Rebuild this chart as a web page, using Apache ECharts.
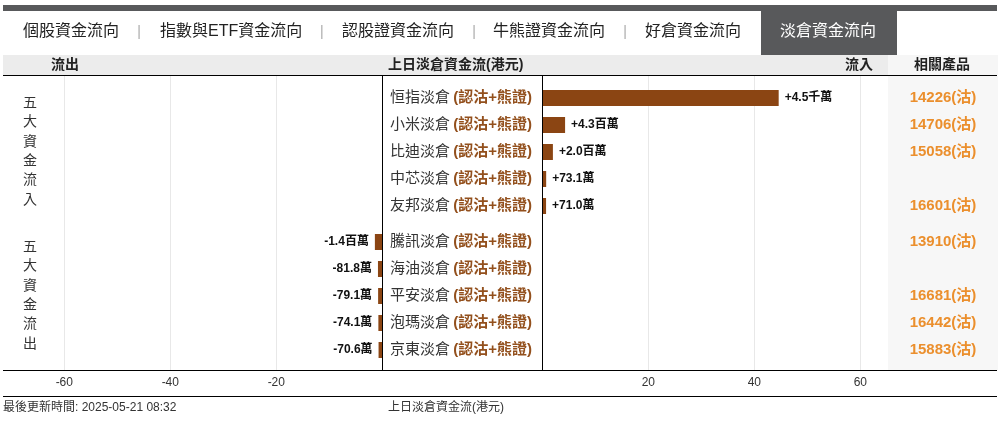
<!DOCTYPE html>
<html><head><meta charset="utf-8">
<script src="https://cdn.jsdelivr.net/npm/echarts@6/dist/echarts.min.js"></script>
<style>html,body{margin:0;padding:0;background:#fff}#c{width:1005px;height:421px}</style>
</head><body><div id="c"></div>
<script>
// ---- data ----
const tabs = ['個股資金流向','指數與ETF資金流向','認股證資金流向','牛熊證資金流向','好倉資金流向','淡倉資金流向'];
const inflowNames = ['恒指淡倉','小米淡倉','比迪淡倉','中芯淡倉','友邦淡倉'];
const inflowValues = [44.6, 4.3, 2.0, 0.731, 0.710];          // 百萬港元
const inflowProducts = ['14226(沽)','14706(沽)','15058(沽)','','16601(沽)'];
const outflowNames = ['騰訊淡倉','海油淡倉','平安淡倉','泡瑪淡倉','京東淡倉'];
const outflowValues = [-1.4, -0.818, -0.791, -0.741, -0.706];  // 百萬港元
const outflowProducts = ['13910(沽)','','16681(沽)','16442(沽)','15883(沽)'];
const nameSuffix = '(認沽+熊證)';
const headerTexts = {out:'流出', title:'上日淡倉資金流(港元)', inn:'流入', prod:'相關產品'};
const sideLabels = ['五大資金流入','五大資金流出'];
const footerTime = '最後更新時間: 2025-05-21 08:32';

// ---- layout ----
const FONT = "'Liberation Sans','Noto Sans CJK TC',sans-serif";
const PX = 5.3;                 // px per unit
const LX = 3;                   // chart left edge
const ZL = 382.3, ZR = 542.3;   // zero positions
const COL = 888;                // product column start
const TOP = 76, BOT = 370;
const leftMax = (ZL - LX) / PX;   // magnitude range of outflow side (axis inverted)
const rightMax = (COL - ZR) / PX;
const BROWN = '#8B4513';
const ORANGE = '#EB8F2D';

function fmt(v){
  const a = Math.abs(v), s = v < 0 ? '-' : '+';
  if (a >= 10) return s + (a/10).toFixed(1) + '千萬';
  if (a >= 1) return s + a.toFixed(1) + '百萬';
  return s + (a*100).toFixed(1) + '萬';
}

const gridsDef = [
  {left: LX, width: ZL - LX, top: TOP, height: BOT-TOP},        // 0 left full
  {left: ZR, width: COL-ZR, top: TOP, height: BOT-TOP},         // 1 right full
  {left: ZR, width: COL-ZR, top: 84.5, height: 135},            // 2 top right bars
  {left: ZR, width: COL-ZR, top: 228.5, height: 135},           // 3 bottom right
  {left: LX, width: ZL - LX, top: 228.5, height: 135}           // 4 bottom left bars
];

const xLabel = {color:'#333', fontSize:12, fontFamily:FONT, margin:7, showMinLabel:false, showMaxLabel:false};
const xAxes = [
  {gridIndex:0, type:'value', min:0, max:leftMax, interval:20, inverse:true,
   axisLine:{show:false}, axisTick:{show:false},
   axisLabel:Object.assign({formatter: v => '-' + v}, xLabel),
   splitLine:{show:true, showMaxLine:false, lineStyle:{color:'#e8e8e8'}}},
  {gridIndex:1, type:'value', min:0, max:rightMax, interval:20,
   axisLine:{show:false}, axisTick:{show:false},
   axisLabel:xLabel,
   splitLine:{show:true, showMaxLine:false, lineStyle:{color:'#e8e8e8'}}},
  {gridIndex:2, type:'value', min:0, max:rightMax, show:false},
  {gridIndex:3, type:'value', min:0, max:rightMax, show:false},
  {gridIndex:4, type:'value', min:0, max:leftMax, inverse:true, show:false}
];

const nameLabel = {
  margin: ZR - 390, align:'left',
  formatter: v => '{n|' + v + '} {b|' + nameSuffix + '}',
  rich: {
    n:{color:'#333', fontSize:15, fontFamily:FONT},
    b:{color:'#93501d', fontSize:15, fontWeight:'bold', fontFamily:FONT}
  }
};
const prodLabel = {margin: 55, align:'center', color:ORANGE, fontSize:15, fontWeight:'bold', fontFamily:FONT};
const hid = {axisLine:{show:false}, axisTick:{show:false}, splitLine:{show:false}};

const yAxes = [
  {gridIndex:0, type:'category', data:[''], position:'right', axisLine:{show:true, lineStyle:{color:'#000', width:1}}, axisTick:{show:false}, axisLabel:{show:false}, z:5},
  {gridIndex:1, type:'category', data:[''], position:'left', axisLine:{show:true, lineStyle:{color:'#000', width:1}}, axisTick:{show:false}, axisLabel:{show:false}, z:5},
  Object.assign({gridIndex:2, type:'category', data:inflowNames, inverse:true, position:'left', axisLabel:nameLabel}, hid),
  Object.assign({gridIndex:2, type:'category', data:inflowProducts, inverse:true, position:'right', axisLabel:prodLabel, z:10}, hid),
  Object.assign({gridIndex:3, type:'category', data:outflowNames, inverse:true, position:'left', axisLabel:nameLabel}, hid),
  Object.assign({gridIndex:3, type:'category', data:outflowProducts, inverse:true, position:'right', axisLabel:prodLabel, z:10}, hid),
  Object.assign({gridIndex:4, type:'category', data:outflowNames, inverse:true, position:'right', axisLabel:{show:false}}, hid)
];

const barLabel = {show:true, color:'#111', fontSize:12, fontWeight:'bold', fontFamily:FONT, distance:6};

const series = [
  {type:'bar', xAxisIndex:2, yAxisIndex:2, data:inflowValues, barWidth:16, itemStyle:{color:BROWN},
   label:Object.assign({position:'right', formatter: p => fmt(inflowValues[p.dataIndex])}, barLabel)},
  // outflow side uses an inverted magnitude axis growing leftwards from zero
  {type:'bar', xAxisIndex:4, yAxisIndex:6, data:outflowValues.map(Math.abs), barWidth:16, itemStyle:{color:BROWN},
   label:Object.assign({position:'left', formatter: p => fmt(outflowValues[p.dataIndex])}, barLabel)}
];

// ---- decorations ----
const tabX = [23, 160, 342, 493, 645, 780];
const sepX = [139, 321.7, 474, 625];
const g = [];
g.push({type:'rect', shape:{x:3, y:5, width:994, height:6}, style:{fill:'#58595b'}});
g.push({type:'rect', shape:{x:761, y:5, width:136, height:50}, style:{fill:'#58595b'}});
tabs.forEach((t,i)=>{
  g.push({type:'text', x:tabX[i], y:32, style:{text:t, fill: i===tabs.length-1 ? '#fff' : '#222', font:'16px ' + FONT, textVerticalAlign:'middle'}});
});
sepX.forEach(x=>g.push({type:'text', x:x, y:32, style:{text:'|', fill:'#aaa', font:'14px ' + FONT, textAlign:'center', textVerticalAlign:'middle'}}));
g.push({type:'rect', shape:{x:3, y:55, width:994, height:20}, style:{fill:'#ececec'}});
g.push({type:'rect', shape:{x:COL, y:55, width:110, height:20}, style:{fill:'#f6f6f6'}});
g.push({type:'rect', shape:{x:COL, y:76, width:110, height:294}, style:{fill:'#f7f7f7'}, z:-1});
const hb = 'bold 14px ' + FONT;
g.push({type:'text', x:65, y:65.5, style:{text:headerTexts.out, fill:'#222', font:hb, textAlign:'center', textVerticalAlign:'middle'}});
g.push({type:'text', x:388, y:65.5, style:{text:headerTexts.title, fill:'#222', font:hb, textVerticalAlign:'middle'}});
g.push({type:'text', x:859, y:65.5, style:{text:headerTexts.inn, fill:'#222', font:hb, textAlign:'center', textVerticalAlign:'middle'}});
g.push({type:'text', x:942, y:65.5, style:{text:headerTexts.prod, fill:'#222', font:hb, textAlign:'center', textVerticalAlign:'middle'}});
g.push({type:'line', shape:{x1:3, y1:75.5, x2:997, y2:75.5}, style:{stroke:'#000', lineWidth:1}, z:10});
g.push({type:'line', shape:{x1:3, y1:370.5, x2:997, y2:370.5}, style:{stroke:'#000', lineWidth:1}, z:10});
g.push({type:'line', shape:{x1:3, y1:396.5, x2:997, y2:396.5}, style:{stroke:'#000', lineWidth:1}, z:10});
[151.5, 295.5].forEach((cy,i)=>{
  g.push({type:'text', x:30, y:cy, style:{text:sideLabels[i].split('').join('\n'), fill:'#333', font:'14px ' + FONT, lineHeight:19.4, textAlign:'center', textVerticalAlign:'middle'}});
});
g.push({type:'text', x:3, y:408, style:{text:footerTime, fill:'#333', font:'12px ' + FONT, textVerticalAlign:'middle'}});
g.push({type:'text', x:388, y:408, style:{text:headerTexts.title, fill:'#333', font:'12px ' + FONT, textVerticalAlign:'middle'}});

const chart = echarts.init(document.getElementById('c'));
chart.setOption({
  animation:false,
  backgroundColor:'#fff',
  grid: gridsDef,
  xAxis: xAxes,
  yAxis: yAxes,
  series: series,
  graphic: g
});
</script></body></html>
